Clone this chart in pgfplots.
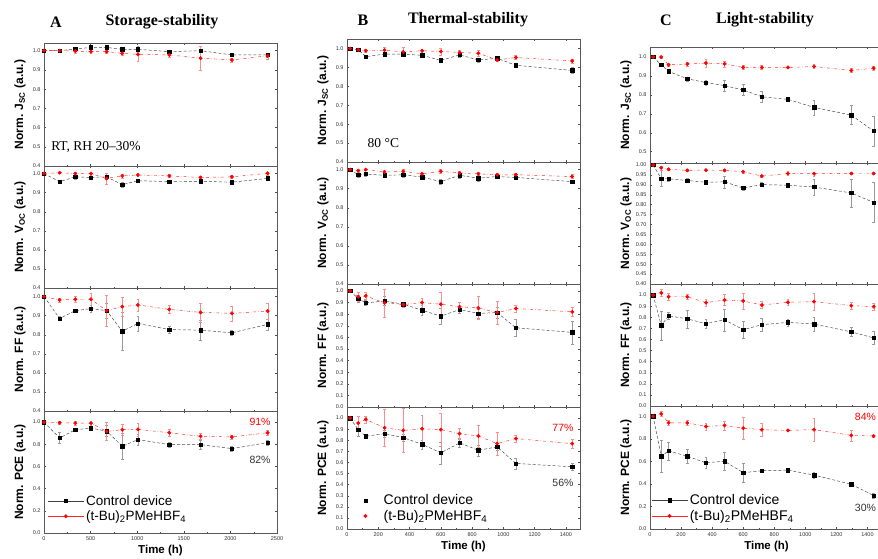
\documentclass[border=0pt]{standalone}
\usepackage{fontspec}
\setmainfont{Liberation Sans}
\newfontfamily\seriffont{Liberation Serif}
\usepackage{pgfplots}
\usepackage{pgfplotstable}
\pgfplotsset{compat=1.18}

% ---------------- data: x, black (control), err, red (additive), err
\pgfplotstableread{
x b eb r er
0 1.0 0 1.0 0
168 1.0 0.005 1.0 0.005
336 1.009 0.01 0.998 0.01
504 1.017 0.01 0.995 0.01
672 1.017 0.01 0.995 0.01
840 1.007 0.01 0.986 0.01
1008 1.007 0.015 0.981 0.035
1344 0.995 0.01 0.978 0.01
1680 1.0 0.01 0.961 0.06
2016 0.978 0.008 0.952 0.01
2400 0.978 0.01 0.973 0.015
}\AJ
\pgfplotstableread{
x b eb r er
0 1.0 0 1.0 0
168 0.958 0.005 1.005 0.005
336 0.983 0.01 1.0 0.008
504 0.98 0.01 1.0 0.008
672 0.983 0.01 0.975 0.03
840 0.942 0.015 0.988 0.01
1008 0.963 0.01 0.993 0.008
1344 0.958 0.005 0.988 0.008
1680 0.96 0.01 0.98 0.008
2016 0.955 0.008 0.983 0.008
2400 0.975 0.008 1.002 0.008
}\AV
\pgfplotstableread{
x b eb r er
0 1.0 0 1.0 0
168 0.885 0.01 0.982 0.01
336 0.926 0.01 0.986 0.015
504 0.937 0.02 0.986 0.03
672 0.926 0.04 0.926 0.08
840 0.818 0.1 0.947 0.05
1008 0.859 0.04 0.956 0.03
1344 0.827 0.02 0.933 0.02
1680 0.824 0.05 0.917 0.05
2016 0.81 0.015 0.912 0.04
2400 0.854 0.03 0.924 0.04
}\AF
\pgfplotstableread{
x b eb r er
0 1.0 0 1.0 0
168 0.857 0.05 0.994 0.01
336 0.931 0.01 0.991 0.02
504 0.946 0.02 0.991 0.02
672 0.919 0.05 0.916 0.08
840 0.782 0.12 0.931 0.05
1008 0.842 0.05 0.934 0.06
1344 0.797 0.02 0.904 0.03
1680 0.797 0.04 0.872 0.03
2016 0.761 0.02 0.866 0.02
2400 0.815 0.02 0.904 0.02
}\AP
\pgfplotstableread{
x b eb r er
20 1.0 0 1.0 0
72 0.993 0.005 0.993 0.005
120 0.957 0.01 0.988 0.01
240 0.97 0.01 0.991 0.015
360 0.97 0.01 0.982 0.025
480 0.964 0.01 0.988 0.01
600 0.937 0.01 0.984 0.02
720 0.966 0.01 0.979 0.01
840 0.939 0.01 0.975 0.015
960 0.948 0.005 0.939 0.005
1080 0.911 0.01 0.952 0.01
1440 0.884 0.015 0.934 0.01
}\BJ
\pgfplotstableread{
x b eb r er
20 1.0 0 1.0 0
72 0.973 0.015 0.995 0.01
120 0.977 0.01 1.0 0.005
240 0.97 0.01 0.987 0.01
360 0.973 0.015 0.991 0.01
480 0.961 0.01 0.978 0.01
600 0.937 0.015 0.991 0.01
720 0.97 0.015 0.982 0.01
840 0.955 0.015 0.978 0.01
960 0.964 0.01 0.973 0.01
1080 0.959 0.01 0.973 0.01
1440 0.937 0.01 0.964 0.01
}\BV
\pgfplotstableread{
x b eb r er
20 1.0 0 1.0 0
72 0.934 0.03 0.949 0.04
120 0.897 0.02 0.957 0.03
240 0.914 0.04 0.897 0.12
360 0.886 0.02 0.883 0.02
480 0.834 0.04 0.9 0.04
600 0.783 0.07 0.886 0.1
720 0.84 0.03 0.863 0.04
840 0.806 0.04 0.854 0.1
960 0.814 0.05 0.814 0.1
1080 0.683 0.07 0.849 0.03
1440 0.643 0.1 0.82 0.04
}\BF
\pgfplotstableread{
x b eb r er
20 1.0 0 1.0 0
72 0.896 0.06 0.955 0.06
120 0.836 0.01 0.988 0.03
240 0.86 0.03 0.913 0.17
360 0.824 0.03 0.889 0.2
480 0.764 0.04 0.904 0.12
600 0.687 0.1 0.896 0.15
720 0.776 0.04 0.86 0.05
840 0.71 0.05 0.839 0.1
960 0.74 0.03 0.77 0.1
1080 0.591 0.05 0.815 0.03
1440 0.561 0.03 0.77 0.04
}\BP
\pgfplotstableread{
x b eb r er
20 1.0 0 1.0 0
72 0.959 0.005 1.0 0.005
120 0.924 0.01 0.959 0.005
240 0.885 0.01 0.963 0.01
360 0.865 0.015 0.968 0.02
480 0.849 0.03 0.964 0.015
600 0.826 0.03 0.945 0.01
720 0.79 0.03 0.945 0.01
888 0.776 0.01 0.945 0.005
1056 0.734 0.04 0.95 0.01
1296 0.693 0.05 0.929 0.01
1440 0.609 0.08 0.941 0.01
}\CJ
\pgfplotstableread{
x b eb r er
20 1.0 0 1.0 0
72 0.932 0.04 0.986 0.01
120 0.93 0.01 0.978 0.005
240 0.922 0.01 0.973 0.005
360 0.913 0.01 0.974 0.005
480 0.915 0.03 0.973 0.005
600 0.884 0.01 0.966 0.005
720 0.901 0.01 0.944 0.005
888 0.898 0.01 0.957 0.01
1056 0.889 0.04 0.956 0.01
1296 0.859 0.07 0.957 0.005
1440 0.811 0.1 0.957 0.005
}\CV
\pgfplotstableread{
x b eb r er
20 1.0 0 1.0 0
72 0.727 0.13 1.02 0.03
120 0.813 0.03 0.985 0.03
240 0.786 0.08 0.985 0.02
360 0.742 0.04 0.932 0.03
480 0.777 0.1 0.955 0.05
600 0.688 0.08 0.947 0.07
720 0.733 0.06 0.911 0.03
888 0.754 0.03 0.935 0.03
1056 0.739 0.06 0.941 0.08
1296 0.668 0.04 0.905 0.03
1440 0.614 0.06 0.896 0.03
}\CF
\pgfplotstableread{
x b eb r er
20 1.0 0 1.0 0
72 0.645 0.14 1.02 0.02
120 0.692 0.08 0.941 0.02
240 0.645 0.06 0.941 0.02
360 0.587 0.05 0.909 0.03
480 0.601 0.08 0.918 0.04
600 0.499 0.08 0.894 0.1
720 0.516 0.01 0.88 0.06
888 0.522 0.02 0.874 0.01
1056 0.478 0.03 0.88 0.1
1296 0.396 0.01 0.83 0.05
1440 0.296 0.02 0.824 0.01
}\CP

\pgfplotsset{
  panel/.style={
    scale only axis, clip=false,
    axis line style={black!65, line width=0.9pt},
    tick style={black!70, line width=0.4pt},
    major tick length=2.2pt, minor tick length=1.3pt,
    tick align=inside, minor x tick num=1,
    ticklabel style={font=\fontsize{5.5}{6}\selectfont, text=black!80},
    /pgf/number format/assume math mode=true,
    xticklabel style={/pgf/number format/1000 sep={}},
    yticklabel style={/pgf/number format/.cd, fixed, fixed zerofill, precision=1},
    every axis y label/.style={at={(rel axis cs:0,0.5)}, xshift=-24pt, rotate=90, anchor=center,
      font=\bfseries\fontsize{12}{13}\selectfont},
    every axis x label/.style={at={(rel axis cs:0.5,0)}, yshift=-18pt, anchor=center,
      font=\bfseries\fontsize{11.5}{12}\selectfont},
    legend cell align=left,
    legend image code/.code={\draw[mark repeat=2,mark phase=2,#1] plot coordinates {(0pt,0pt)(18pt,0pt)(36pt,0pt)};},
    legend image post style={solid},
  },
  blk/.style={black!75, densely dashed, line width=0.45pt, mark=square*, mark size=1.7pt,
    mark options={solid, fill=black, draw=black},
    error bars/.cd, y dir=both, y explicit,
    error bar style={solid, black!40, line width=0.35pt},
    error mark options={rotate=90, black!40, mark size=1.4pt, line width=0.35pt}},
  rd/.style={red!85, dashdotted, line width=0.45pt, mark=*, mark size=1.7pt,
    mark options={solid, fill=red, draw=red},
    error bars/.cd, y dir=both, y explicit,
    error bar style={solid, red!45, line width=0.35pt},
    error mark options={rotate=90, red!45, mark size=1.4pt, line width=0.35pt}},
}

\begin{document}
\begin{tikzpicture}
\useasboundingbox (0,0) rectangle (878pt,558pt);

% ---------------- titles
\node[font=\seriffont\bfseries\fontsize{16}{16}\selectfont] at (56pt,536pt) {A};
\node[font=\seriffont\bfseries\fontsize{16}{16}\selectfont] at (162pt,536pt) {Storage-stability};
\node[font=\seriffont\bfseries\fontsize{16}{16}\selectfont] at (363pt,538pt) {B};
\node[font=\seriffont\bfseries\fontsize{16}{16}\selectfont] at (468pt,538pt) {Thermal-stability};
\node[font=\seriffont\bfseries\fontsize{16}{16}\selectfont] at (666pt,538pt) {C};
\node[font=\seriffont\bfseries\fontsize{16}{16}\selectfont] at (765pt,538pt) {Light-stability};

% ================= column A =================
\begin{axis}[panel, at={(44pt,392pt)}, anchor=south west, width=233pt, height=123pt,
  xmin=0, xmax=2500, ymin=0.4, ymax=1.04, xtick={0,500,1000,1500,2000,2500}, xticklabels={},
  ytick={0.4,0.5,0.6,0.7,0.8,0.9,1.0}, ylabel={Norm. J\textsubscript{SC} (a.u.)}]
\addplot[blk] table[x=x,y=b,y error=eb]{\AJ};
\addplot[rd] table[x=x,y=r,y error=er]{\AJ};
\node[anchor=west, font=\seriffont\fontsize{13.5}{14}\selectfont] at (axis cs:40,0.5) {RT, RH 20–30\%};
\end{axis}
\begin{axis}[panel, at={(44pt,270pt)}, anchor=south west, width=233pt, height=122pt,
  xmin=0, xmax=2500, ymin=0.4, ymax=1.04, xtick={0,500,1000,1500,2000,2500}, xticklabels={},
  ytick={0.4,0.5,0.6,0.7,0.8,0.9,1.0}, ylabel={Norm. V\textsubscript{OC} (a.u.)}]
\addplot[blk] table[x=x,y=b,y error=eb]{\AV};
\addplot[rd] table[x=x,y=r,y error=er]{\AV};
\end{axis}
\begin{axis}[panel, at={(44pt,147pt)}, anchor=south west, width=233pt, height=123pt,
  xmin=0, xmax=2500, ymin=0.4, ymax=1.045, xtick={0,500,1000,1500,2000,2500}, xticklabels={},
  ytick={0.4,0.5,0.6,0.7,0.8,0.9,1.0}, ylabel={Norm. FF (a.u.)}]
\addplot[blk] table[x=x,y=b,y error=eb]{\AF};
\addplot[rd] table[x=x,y=r,y error=er]{\AF};
\end{axis}
\begin{axis}[panel, at={(44pt,25pt)}, anchor=south west, width=233pt, height=122pt,
  xmin=0, xmax=2500, ymin=0, ymax=1.1, xtick={0,500,1000,1500,2000,2500},
  ytick={0,0.2,0.4,0.6,0.8,1.0}, ylabel={Norm. PCE (a.u.)}, xlabel={Time (h)},
  legend style={draw=none, fill=none, at={(0.015,0.2)}, anchor=west,
    font=\fontsize{13.5}{13.5}\selectfont, row sep=0pt, inner sep=0pt}]
\addplot[blk] table[x=x,y=b,y error=eb]{\AP};
\addplot[rd] table[x=x,y=r,y error=er]{\AP};
\legend{Control device, (t-Bu)\textsubscript{2}PMeHBF\textsubscript{4}}
\node[red, font=\fontsize{10.5}{10.5}\selectfont] at (axis cs:2318,1.0) {91\%};
\node[black!80, font=\fontsize{10.5}{10.5}\selectfont] at (axis cs:2318,0.66) {82\%};
\end{axis}

% ================= column B =================
\begin{axis}[panel, at={(347pt,396pt)}, anchor=south west, width=233pt, height=123pt,
  xmin=0, xmax=1490, ymin=0.4, ymax=1.05, xtick={0,200,...,1400}, xticklabels={},
  ytick={0.4,0.5,0.6,0.7,0.8,0.9,1.0}, ylabel={Norm. J\textsubscript{SC} (a.u.)}]
\addplot[blk] table[x=x,y=b,y error=eb]{\BJ};
\addplot[rd] table[x=x,y=r,y error=er]{\BJ};
\node[anchor=west, font=\seriffont\fontsize{13.5}{14}\selectfont] at (axis cs:110,0.5) {80 \textdegree C};
\end{axis}
\begin{axis}[panel, at={(347pt,274pt)}, anchor=south west, width=233pt, height=122pt,
  xmin=0, xmax=1490, ymin=0.4, ymax=1.04, xtick={0,200,...,1400}, xticklabels={},
  ytick={0.4,0.5,0.6,0.7,0.8,0.9,1.0}, ylabel={Norm. V\textsubscript{OC} (a.u.)}]
\addplot[blk] table[x=x,y=b,y error=eb]{\BV};
\addplot[rd] table[x=x,y=r,y error=er]{\BV};
\end{axis}
\begin{axis}[panel, at={(347pt,151pt)}, anchor=south west, width=233pt, height=123pt,
  xmin=0, xmax=1490, ymin=0, ymax=1.06, xtick={0,200,...,1400}, xticklabels={},
  ytick={0,0.1,0.2,0.3,0.4,0.5,0.6,0.7,0.8,0.9,1.0}, ylabel={Norm. FF (a.u.)}]
\addplot[blk] table[x=x,y=b,y error=eb]{\BF};
\addplot[rd] table[x=x,y=r,y error=er]{\BF};
\end{axis}
\begin{axis}[panel, at={(347pt,29pt)}, anchor=south west, width=233pt, height=122pt,
  xmin=0, xmax=1490, ymin=0, ymax=1.1, xtick={0,200,...,1400},
  ytick={0,0.1,0.2,0.3,0.4,0.5,0.6,0.7,0.8,0.9,1.0}, ylabel={Norm. PCE (a.u.)}, xlabel={Time (h)},
  legend image code/.code={\path (0pt,0pt) (34pt,0pt); \draw[mark repeat=2,mark phase=2,#1,only marks] plot coordinates {(0pt,0pt)(18pt,0pt)(34pt,0pt)};},
  legend style={draw=none, fill=none, at={(0.0,0.17)}, anchor=west,
    font=\fontsize{14}{14}\selectfont, row sep=0pt, inner sep=0pt}]
\addplot[blk] table[x=x,y=b,y error=eb]{\BP};
\addplot[rd] table[x=x,y=r,y error=er]{\BP};
\legend{Control device, (t-Bu)\textsubscript{2}PMeHBF\textsubscript{4}}
\node[red, font=\fontsize{10.5}{10.5}\selectfont] at (axis cs:1381,0.91) {77\%};
\node[black!80, font=\fontsize{10.5}{10.5}\selectfont] at (axis cs:1381,0.42) {56\%};
\end{axis}

% ================= column C =================
\begin{axis}[panel, at={(650pt,395pt)}, anchor=south west, width=233pt, height=116pt,
  xmin=0, xmax=1500, ymin=0.44, ymax=1.053, xtick={0,200,...,1400}, xticklabels={},
  ytick={0.5,0.6,0.7,0.8,0.9,1.0}, ylabel={Norm. J\textsubscript{SC} (a.u.)}]
\addplot[blk] table[x=x,y=b,y error=eb]{\CJ};
\addplot[rd] table[x=x,y=r,y error=er]{\CJ};
\end{axis}
\begin{axis}[panel, at={(650pt,274pt)}, anchor=south west, width=233pt, height=121pt,
  xmin=0, xmax=1500, ymin=0.4, ymax=1.01, xtick={0,200,...,1400}, xticklabels={},
  ytick={0.4,0.45,0.5,0.55,0.6,0.65,0.7,0.75,0.8,0.85,0.9,0.95,1.0},
  yticklabel style={/pgf/number format/.cd, fixed, fixed zerofill, precision=2},
  ylabel={Norm. V\textsubscript{OC} (a.u.)}]
\addplot[blk] table[x=x,y=b,y error=eb]{\CV};
\addplot[rd] table[x=x,y=r,y error=er]{\CV};
\end{axis}
\begin{axis}[panel, at={(650pt,152pt)}, anchor=south west, width=233pt, height=122pt,
  xmin=0, xmax=1500, ymin=0, ymax=1.1, xtick={0,200,...,1400}, xticklabels={},
  ytick={0,0.1,0.2,0.3,0.4,0.5,0.6,0.7,0.8,0.9,1.0}, ylabel={Norm. FF (a.u.)}]
\addplot[blk] table[x=x,y=b,y error=eb]{\CF};
\addplot[rd] table[x=x,y=r,y error=er]{\CF};
\end{axis}
\begin{axis}[panel, at={(650pt,29pt)}, anchor=south west, width=233pt, height=123pt,
  xmin=0, xmax=1500, ymin=0, ymax=1.09, xtick={0,200,...,1400},
  ytick={0,0.2,0.4,0.6,0.8,1.0}, ylabel={Norm. PCE (a.u.)}, xlabel={Time (h)},
  legend style={draw=none, fill=none, at={(0.005,0.17)}, anchor=west,
    font=\fontsize{14}{14}\selectfont, row sep=0pt, inner sep=0pt}]
\addplot[blk] table[x=x,y=b,y error=eb]{\CP};
\addplot[rd] table[x=x,y=r,y error=er]{\CP};
\legend{Control device, (t-Bu)\textsubscript{2}PMeHBF\textsubscript{4}}
\node[red, font=\fontsize{10.5}{10.5}\selectfont] at (axis cs:1387,0.99) {84\%};
\node[black!80, font=\fontsize{10.5}{10.5}\selectfont] at (axis cs:1387,0.19) {30\%};
\end{axis}
\end{tikzpicture}
\end{document}
